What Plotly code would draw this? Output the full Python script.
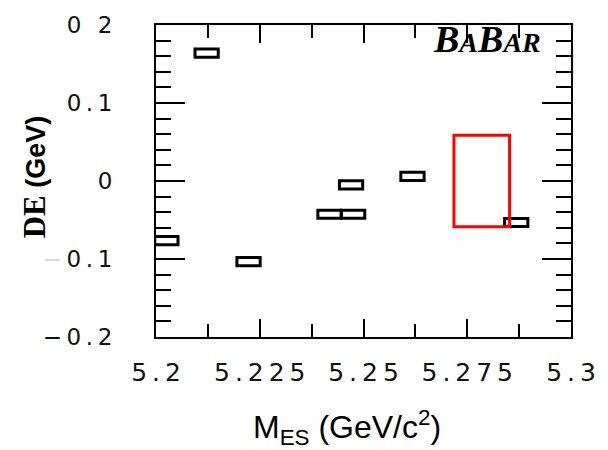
import plotly.graph_objects as go

# Candidate events in the (mES, DE) plane
evt_mes = [5.2122, 5.2025, 5.2223, 5.2418, 5.2475, 5.2470, 5.2618, 5.2868]
evt_de = [0.164, -0.0764, -0.1033, -0.0426, -0.0426, -0.005, 0.006, -0.0532]

# Signal box
sig_mes = [5.2718, 5.2852]
sig_de = [-0.0585, 0.0585]

# Axis ticks and their labels
x_ticks = [5.2, 5.225, 5.25, 5.275, 5.3]
x_labels = ["5.2", "5.225", "5.25", "5.275", "5.3"]
y_ticks = [-0.2, -0.1, 0.0, 0.1, 0.2]
y_labels = ["−0.2", "−0.1", "0", "0.1", "0 2"]

# half-size of an event box in data units
BOX_DX = 0.0028
BOX_DY = 0.0052

GAP = "\u2009"


def spaced(s, gap=GAP):
    return gap.join(s)


x_text = [spaced(s) for s in x_labels]
y_text = []
for s in y_labels:
    t = spaced(s)
    if s == "−0.1":
        # faint minus sign on this label
        t = "<span style='color:#d8d8d8'>−</span>" + t[1:]
    y_text.append(t)

fig = go.Figure()
fig.add_trace(go.Scatter(x=evt_mes, y=evt_de, mode="markers",
                         marker=dict(size=1, opacity=0), hoverinfo="x+y",
                         showlegend=False))

shapes = []
for m, d in zip(evt_mes, evt_de):
    shapes.append(dict(type="rect", xref="x", yref="y",
                       x0=m - BOX_DX, x1=m + BOX_DX,
                       y0=d - BOX_DY, y1=d + BOX_DY,
                       line=dict(color="black", width=3),
                       fillcolor="white"))
shapes.append(dict(type="rect", xref="x", yref="y",
                   x0=sig_mes[0], x1=sig_mes[1], y0=sig_de[0], y1=sig_de[1],
                   line=dict(color="#ff0000", width=3)))

fig.update_layout(
    width=608, height=450,
    margin=dict(l=156, r=27, t=17, b=113, pad=0),
    plot_bgcolor="white", paper_bgcolor="white",
    shapes=shapes,
    xaxis=dict(range=[5.2, 5.3], showgrid=False, zeroline=False,
               showline=True, linecolor="black", linewidth=2, mirror="allticks",
               ticks="inside", ticklen=18, tickwidth=1.5, tickcolor="black",
               tickvals=x_ticks, ticktext=x_text,
               tickfont=dict(family="DejaVu Sans", size=25, color="#111111"),
               ticklabelstandoff=12,
               minor=dict(tick0=5.2, dtick=0.0125, ticks="inside", ticklen=13,
                          tickwidth=1.5, tickcolor="black", showgrid=False)),
    yaxis=dict(range=[-0.2, 0.2], showgrid=False, zeroline=False,
               showline=True, linecolor="black", linewidth=2, mirror="allticks",
               ticks="inside", ticklen=29, tickwidth=1.5, tickcolor="black",
               tickvals=y_ticks, ticktext=y_text,
               tickfont=dict(family="DejaVu Sans", size=23, color="#111111"),
               ticklabelstandoff=37,
               minor=dict(tick0=-0.2, dtick=0.02, ticks="inside", ticklen=15,
                          tickwidth=1.5, tickcolor="black", showgrid=False)),
    annotations=[
        dict(text="<b><i>B<span style='font-size:28px'>A</span>B"
                  "<span style='font-size:28px'>AR</span></i></b>",
             xref="paper", yref="paper", x=0.798, y=0.955,
             xanchor="center", yanchor="middle", showarrow=False,
             font=dict(family="Liberation Serif", size=38, color="black")),
        dict(text="<b><span style='font-family:Liberation Serif;font-size:31px'>DE</span> (GeV)</b>",
             xref="paper", yref="paper", x=-0.294, y=0.515,
             xanchor="center", yanchor="middle", textangle=-90, showarrow=False,
             font=dict(family="Liberation Sans", size=27, color="black")),
        dict(text="M<sub>ES</sub> (GeV/c<sup>2</sup>)",
             xref="paper", yref="paper", x=0.46, y=-0.29,
             xanchor="center", yanchor="middle", showarrow=False,
             font=dict(family="Liberation Sans", size=32, color="black")),
    ],
)

fig.write_html("out.html")
